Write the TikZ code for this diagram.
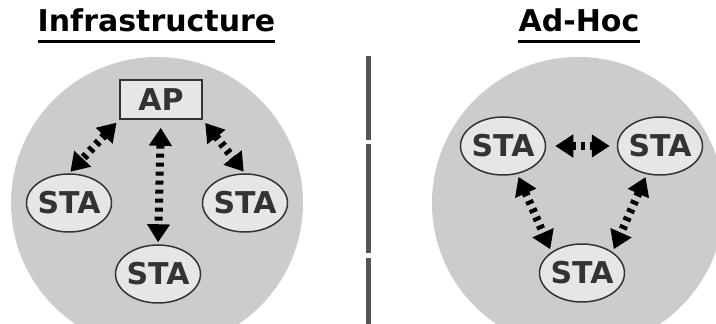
\documentclass[tikz,border=0pt]{standalone}
\usepackage{fontspec}
\setmainfont{DejaVu Sans}
\usetikzlibrary{arrows.meta, shapes.geometric}
\definecolor{zonegray}{HTML}{CCCCCC}
\definecolor{boxgray}{HTML}{E6E6E6}
\definecolor{edgegray}{HTML}{333333}
\definecolor{sepgray}{HTML}{555555}
\tikzset{
  zone/.style={shape=circle, fill=zonegray, minimum size=292pt, inner sep=0pt},
  sta/.style={shape=ellipse, draw=edgegray, fill=boxgray, line width=1.5pt, text=edgegray,
    minimum width=85pt, minimum height=58pt, inner sep=0pt, inner xsep=-6pt,
    font=\fontsize{30}{32}\selectfont\bfseries},
  ap/.style={shape=rectangle, draw=edgegray, fill=boxgray, line width=1.5pt, text=edgegray,
    minimum width=82pt, minimum height=39pt, inner sep=0pt, font=\fontsize{30}{32}\selectfont\bfseries},
  heading/.style={inner sep=0pt, anchor=base, font=\fontsize{30}{32}\selectfont\bfseries},
  link/.style={line width=8pt, dash pattern=on 4pt off 5pt,
    {Triangle[length=18pt,width=22pt]}-{Triangle[length=18pt,width=22pt]}},
}
\begin{document}
\begin{tikzpicture}[x=1pt, y=1pt]
\useasboundingbox (0,0) rectangle (716,324);
\clip (0,0) rectangle (716,324);
\node[zone] (infra) at (157,121) {};
\node[zone] (adhoc) at (578,121) {};
\node[heading] (t1) at (156.5,292) {Infrastructure};
\node[heading] (t2) at (579,292) {Ad-Hoc};
\draw[line width=3pt] ([yshift=-10pt]t1.base west) -- ([yshift=-10pt]t1.base east);
\draw[line width=3pt] ([yshift=-10pt]t2.base west) -- ([yshift=-10pt]t2.base east);
\draw[sepgray, line width=5pt] (368,268) -- (368,184);
\draw[sepgray, line width=5pt] (368,180) -- (368,71);
\draw[sepgray, line width=5pt] (368,66) -- (368,0);
% infrastructure
\node[ap] (AP) at (161,224.5) {AP};
\node[sta] (S1) at (69,121) {STA};
\node[sta] (S2) at (245,121) {STA};
\node[sta] (S3) at (158,50) {STA};
\path[link] (AP.south west) edge [shorten <=4pt, shorten >=2pt] (S1.north);
\path[link] (AP.south east) edge [shorten <=4pt, shorten >=2pt] (S2.north);
\path[link] (AP.south) edge [shorten <=8pt, shorten >=2pt] (S3.north);
% ad-hoc
\node[sta] (A1) at (503,178) {STA};
\node[sta] (A2) at (660,178) {STA};
\node[sta] (A3) at (582,51) {STA};
\path[link] (A1.east) edge [shorten <=9pt, shorten >=7pt] (A2.west);
\path[link] (A1.-63) edge [shorten <=3pt, shorten >=3pt] (A3.north west);
\path[link] (A2.-115) edge [shorten <=3pt, shorten >=3pt] (A3.north east);
\end{tikzpicture}
\end{document}
